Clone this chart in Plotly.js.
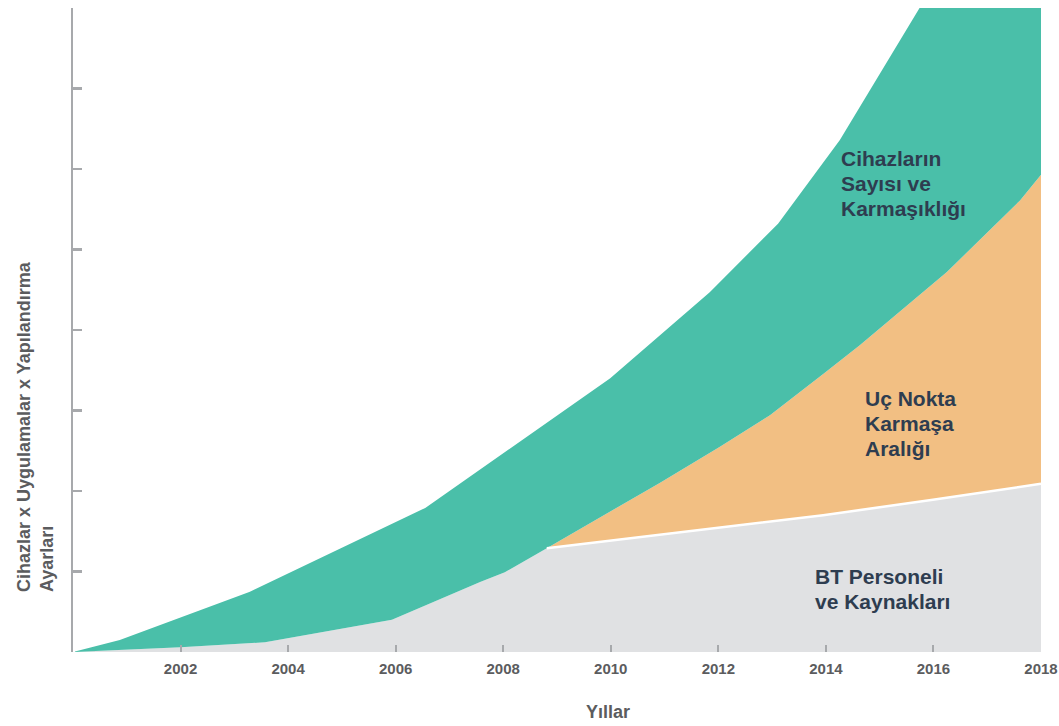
<!DOCTYPE html>
<html>
<head>
<meta charset="utf-8">
<script src="https://cdn.plot.ly/plotly-3.0.1.min.js"></script>
<style>html,body{margin:0;padding:0;background:#fff;}#chart{width:1059px;height:726px;}</style>
</head>
<body>
<div id="chart"></div>
<script>
// Grey band: BT Personeli ve Kaynakları (top boundary)
const greyYears  = [2000, 2002, 2003.57, 2005.93, 2007.57, 2008.03, 2008.81, 2011.29, 2013.95, 2015.99, 2018];
const greyValues = [0, 0.06, 0.12, 0.40, 0.87, 0.99, 1.29, 1.49, 1.70, 1.89, 2.09];

// Orange band: Uç Nokta Karmaşa Aralığı (top boundary; equals grey before ~2009)
const orangeYears  = [2000, 2002, 2003.57, 2005.93, 2007.57, 2008.03, 2008.81, 2010.41, 2010.91, 2012.03, 2012.96, 2013.98, 2014.63, 2016.25, 2017.61, 2018];
const orangeValues = [0, 0.06, 0.12, 0.40, 0.87, 0.99, 1.29, 1.91, 2.10, 2.55, 2.94, 3.47, 3.81, 4.72, 5.61, 5.93];

// Teal band: Cihazların Sayısı ve Karmaşıklığı (top boundary)
const tealYears  = [2000, 2000.87, 2003.29, 2006.55, 2009.99, 2011.84, 2013.11, 2014.26, 2018];
const tealValues = [0, 0.15, 0.75, 1.79, 3.40, 4.47, 5.32, 6.36, 10.5];

// White separator line between grey and orange bands
const sepYears  = [2008.81, 2011.29, 2013.95, 2015.99, 2018];
const sepValues = [1.29, 1.49, 1.70, 1.89, 2.09];

const tickYears = [2002, 2004, 2006, 2008, 2010, 2012, 2014, 2016, 2018];
const tickLabels = ['2002', '2004', '2006', '2008', '2010', '2012', '2014', '2016', '2018'];
const yTickVals = [0, 1, 2, 3, 4, 5, 6, 7, 8];

const labelTeal   = ['Cihazların', 'Sayısı ve', 'Karmaşıklığı'];
const labelOrange = ['Uç Nokta', 'Karmaşa', 'Aralığı'];
const labelGrey   = ['BT Personeli', 've Kaynakları'];
const yTitle = 'Cihazlar x Uygulamalar x Yapılandırma<br>Ayarları';
const xTitle = 'Yıllar';

const C_TEAL = '#4abfa9', C_ORANGE = '#f2bf83', C_GREY = '#e0e1e3', C_TEXT = '#2e3d50', C_AXIS = '#5b5c5e';
const FONT = 'Liberation Sans, Arial, sans-serif';

const traces = [
  {x: greyYears, y: greyValues, type: 'scatter', mode: 'lines', fill: 'tozeroy',
   fillcolor: C_GREY, line: {width: 0, color: C_GREY}, hoverinfo: 'skip'},
  {x: orangeYears, y: orangeValues, type: 'scatter', mode: 'lines', fill: 'tonexty',
   fillcolor: C_ORANGE, line: {width: 0, color: C_ORANGE}, hoverinfo: 'skip'},
  {x: tealYears, y: tealValues, type: 'scatter', mode: 'lines', fill: 'tonexty',
   fillcolor: C_TEAL, line: {width: 0, color: C_TEAL}, hoverinfo: 'skip'},
  {x: sepYears, y: sepValues, type: 'scatter', mode: 'lines',
   line: {width: 2.5, color: '#ffffff'}, hoverinfo: 'skip'}
];

const plotW = 968, plotH = 644, ml = 73, mt = 8;
const px = v => (v - ml) / plotW;
const py = v => (mt + plotH - v) / plotH;

const annotations = [];
function block(lines, left, firstCenter, spacing) {
  lines.forEach((t, i) => {
    annotations.push({text: t, xref: 'paper', yref: 'paper', x: px(left), y: py(firstCenter + i * spacing),
      xanchor: 'left', yanchor: 'middle', showarrow: false,
      font: {family: FONT, size: 21, weight: 'bold', color: C_TEXT}});
  });
}
block(labelTeal, 839, 158, 25);
block(labelOrange, 863, 398, 25);
block(labelGrey, 813, 576, 25);

annotations.push({text: yTitle, xref: 'paper', yref: 'paper', x: px(35), y: py(427),
  xanchor: 'center', yanchor: 'middle', textangle: -90, showarrow: false, align: 'left',
  font: {family: FONT, size: 18, weight: 'bold', color: C_AXIS}});
annotations.push({text: xTitle, xref: 'paper', yref: 'paper', x: px(608), y: py(712),
  xanchor: 'center', yanchor: 'middle', showarrow: false,
  font: {family: FONT, size: 18, weight: 'bold', color: C_AXIS}});

const layout = {
  width: 1059, height: 726,
  margin: {l: 73, r: 18, t: 8, b: 74},
  paper_bgcolor: '#ffffff', plot_bgcolor: '#ffffff',
  showlegend: false,
  xaxis: {range: [2000, 2018], tickvals: tickYears, ticktext: tickLabels,
    ticks: 'inside', ticklen: 7, tickwidth: 2, tickcolor: '#a7a9ac',
    ticklabelstandoff: 6,
    showline: false, showgrid: false, zeroline: false, fixedrange: true,
    tickfont: {family: FONT, size: 15, weight: 'bold', color: C_AXIS}},
  yaxis: {range: [0, 8], tickvals: yTickVals, showticklabels: false,
    ticks: 'inside', ticklen: 9, tickwidth: 2.5, tickcolor: '#a7a9ac',
    showline: true, linecolor: '#a7a9ac', linewidth: 2.5,
    showgrid: false, zeroline: false, fixedrange: true},
  annotations: annotations
};

Plotly.newPlot('chart', traces, layout, {displayModeBar: false, staticPlot: true});
</script>
</body>
</html>
